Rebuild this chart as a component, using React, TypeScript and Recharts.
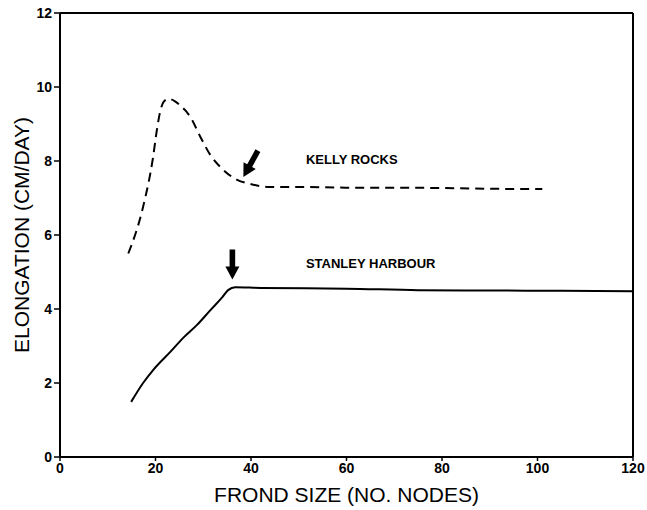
import React from "react";
import {
  LineChart,
  Line,
  XAxis,
  YAxis,
  ReferenceLine,
  ReferenceDot,
} from "recharts";

// Kelly Rocks (dashed) – elongation vs frond size
const kellyNodes = [14.3, 17.4, 19.5, 20.3, 21.0, 21.7, 22.7, 24.0, 25.2, 26.3, 27.3, 29.4, 31.5, 34.2, 37.1, 39.9, 43.4, 50, 60, 70, 80, 90, 101];
const kellyRate = [5.5, 6.76, 8.11, 8.85, 9.35, 9.6, 9.68, 9.62, 9.5, 9.36, 9.19, 8.65, 8.16, 7.76, 7.49, 7.38, 7.3, 7.3, 7.28, 7.28, 7.27, 7.25, 7.24];

// Stanley Harbour (solid)
const stanleyNodes = [14.9, 17.4, 19.5, 23.1, 25.8, 28.7, 31.5, 34, 35.2, 36.7, 42, 60, 75, 90, 105, 120];
const stanleyRate = [1.49, 2.0, 2.35, 2.84, 3.22, 3.57, 3.97, 4.32, 4.51, 4.59, 4.57, 4.55, 4.51, 4.5, 4.49, 4.48];

const xTicks = [0, 20, 40, 60, 80, 100, 120];
const yTicks = [0, 2, 4, 6, 8, 10, 12];

// site labels and arrow tips (data coordinates)
const siteLabels = [
  { name: "KELLY ROCKS", x: 51.5, y: 8.0 },
  { name: "STANLEY HARBOUR", x: 51.5, y: 5.19 },
];
const arrowTips = [
  { x: 38.4, y: 7.57, angle: -61 },
  { x: 36.1, y: 4.8, angle: -90 },
];

const kelly = kellyNodes.map((x, i) => ({ x, y: kellyRate[i] }));
const stanley = stanleyNodes.map((x, i) => ({ x, y: stanleyRate[i] }));

const tickFont = {
  fontFamily: "Liberation Sans, Arial, sans-serif",
  fontWeight: 700,
  fontSize: 14,
  fill: "#000",
};

const titleStyle = {
  fontFamily: "Liberation Sans, Arial, sans-serif",
  fontSize: 21,
  fill: "#000",
};

// arrow pointing at (cx, cy); angle is the direction of the tail, in degrees
function Arrow(props: any) {
  const { cx, cy, angle } = props;
  const len = 30;
  const head = 13;
  const hw = 7;
  const sw = 2.8;
  const pts = [
    [0, 0],
    [head, hw],
    [head, sw],
    [len, sw],
    [len, -sw],
    [head, -sw],
    [head, -hw],
  ];
  const a = (angle * Math.PI) / 180;
  const c = Math.cos(a);
  const s = Math.sin(a);
  const d = pts
    .map(([px, py]) => `${cx + px * c - py * s},${cy + px * s + py * c}`)
    .join(" ");
  return <polygon points={d} fill="#000" />;
}

function SiteLabel(props: any) {
  const { cx, cy, name } = props;
  return (
    <text
      x={cx}
      y={cy}
      dominantBaseline="middle"
      fontFamily="Liberation Sans, Arial, sans-serif"
      fontWeight={700}
      fontSize={13}
      fill="#000"
    >
      {name}
    </text>
  );
}

export default function App() {
  return (
    <div style={{ position: "absolute", left: 0, top: 0, background: "#fff" }}>
      <LineChart
        width={647}
        height={510}
        margin={{ top: 13, right: 14, bottom: 0, left: 0 }}
      >
        <XAxis
          type="number"
          dataKey="x"
          domain={[0, 120]}
          ticks={xTicks}
          height={53}
          tickSize={4}
          tick={tickFont}
          axisLine={{ stroke: "#000", strokeWidth: 2 }}
          tickLine={{ stroke: "#000", strokeWidth: 1.5 }}
          label={{
            value: "FROND SIZE (NO. NODES)",
            position: "insideBottom",
            offset: 8,
            style: titleStyle,
          }}
        />
        <YAxis
          type="number"
          dataKey="y"
          domain={[0, 12]}
          ticks={yTicks}
          width={60}
          tickSize={6}
          tick={tickFont}
          axisLine={{ stroke: "#000", strokeWidth: 2 }}
          tickLine={{ stroke: "#000", strokeWidth: 1.5 }}
          label={{
            value: "ELONGATION (CM/DAY)",
            angle: -90,
            position: "insideLeft",
            offset: 22,
            style: { ...titleStyle, textAnchor: "middle" },
          }}
        />
        <ReferenceLine y={12} stroke="#000" strokeWidth={2} />
        <ReferenceLine x={120} stroke="#000" strokeWidth={2} />
        <Line
          data={kelly}
          dataKey="y"
          type="monotone"
          stroke="#000"
          strokeWidth={2}
          strokeDasharray="9 6"
          dot={false}
          isAnimationActive={false}
        />
        <Line
          data={stanley}
          dataKey="y"
          type="monotone"
          stroke="#000"
          strokeWidth={2}
          dot={false}
          isAnimationActive={false}
        />
        {arrowTips.map((a, i) => (
          <ReferenceDot
            key={`arrow-${i}`}
            x={a.x}
            y={a.y}
            r={0}
            shape={(p: any) => <Arrow {...p} angle={a.angle} />}
          />
        ))}
        {siteLabels.map((l) => (
          <ReferenceDot
            key={l.name}
            x={l.x}
            y={l.y}
            r={0}
            shape={(p: any) => <SiteLabel {...p} name={l.name} />}
          />
        ))}
      </LineChart>
    </div>
  );
}
